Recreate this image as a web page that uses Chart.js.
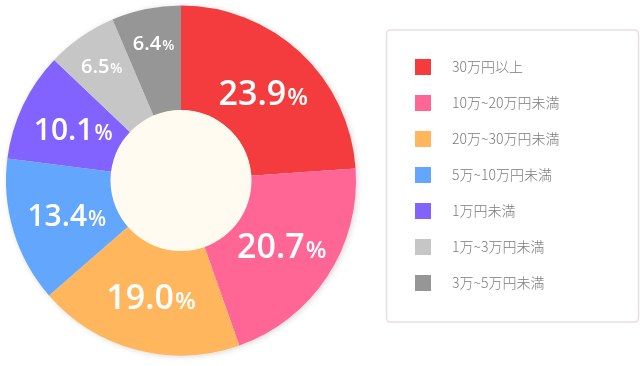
<!DOCTYPE html>
<html>
<head>
<meta charset="utf-8">
<script src="https://cdn.jsdelivr.net/npm/chart.js@4/dist/chart.umd.min.js"></script>
<style>
html,body{margin:0;padding:0;background:#fff;}
#c{display:block;}
</style>
</head>
<body>
<canvas id="c" width="640" height="366"></canvas>
<script>
const categories = ['30万円以上','10万~20万円未満','20万~30万円未満','5万~10万円未満','1万円未満','1万~3万円未満','3万~5万円未満'];
const shares = [23.9, 20.7, 19.0, 13.4, 10.1, 6.5, 6.4];
const sliceColors = ['#f43b3e','#ff6595','#ffb65d','#63a6fe','#8263ff','#c6c6c6','#969696'];

const holeShadow = {
  id: 'holeShadow',
  beforeDatasetsDraw(chart) {
    const arc = chart.getDatasetMeta(0).data[0];
    if (!arc) return;
    const ctx = chart.ctx;
    ctx.save();
    ctx.shadowColor = 'rgba(0,0,0,0.18)';
    ctx.shadowBlur = 6;
    ctx.shadowOffsetX = 1.5;
    ctx.shadowOffsetY = 1;
    ctx.beginPath();
    ctx.arc(arc.x, arc.y, arc.outerRadius - 0.5, 0, Math.PI * 2);
    ctx.fillStyle = '#ffffff';
    ctx.fill();
    ctx.restore();
  },
  afterDatasetsDraw(chart) {
    const meta = chart.getDatasetMeta(0);
    const ctx = chart.ctx;
    const a0 = meta.data[0];
    ctx.save();
    ctx.beginPath();
    ctx.arc(a0.x, a0.y, a0.innerRadius + 0.5, 0, Math.PI * 2);
    ctx.fillStyle = '#fffbf0';
    ctx.fill();
    meta.data.forEach((arc, i) => {
      const v = chart.data.datasets[0].data[i];
      const mid = (arc.startAngle + arc.endAngle) / 2;
      const r = v < 8 ? arc.outerRadius * 0.8 : arc.outerRadius * 0.685;
      const cx = arc.x + Math.cos(mid) * r;
      const cy = arc.y + Math.sin(mid) * r;
      const big = v >= 15 ? 34 : (v >= 10 ? 30 : 20);
      const small = Math.round(big * 0.7);
      const num = v.toFixed(1);
      ctx.font = '600 ' + big + 'px "Open Sans"';
      const w1 = ctx.measureText(num).width;
      ctx.font = '600 ' + small + 'px "Open Sans"';
      const w2 = ctx.measureText('%').width;
      const x0 = cx - (w1 + w2) / 2;
      const base = cy + big * 0.714 / 2;
      ctx.fillStyle = '#ffffff';
      ctx.textAlign = 'left';
      ctx.textBaseline = 'alphabetic';
      ctx.font = '600 ' + big + 'px "Open Sans"';
      ctx.fillText(num, x0, base);
      ctx.font = '600 ' + small + 'px "Open Sans"';
      ctx.fillText('%', x0 + w1 + 1, base);
    });
    ctx.restore();
  }
};

const sideLegend = {
  id: 'sideLegend',
  afterDraw(chart) {
    const ctx = chart.ctx;
    ctx.save();
    const bx = 386.5, by = 30, bw = 252, bh = 292, rr = 4;
    ctx.beginPath();
    ctx.moveTo(bx + rr, by);
    ctx.lineTo(bx + bw - rr, by);
    ctx.arcTo(bx + bw, by, bx + bw, by + rr, rr);
    ctx.lineTo(bx + bw, by + bh - rr);
    ctx.arcTo(bx + bw, by + bh, bx + bw - rr, by + bh, rr);
    ctx.lineTo(bx + rr, by + bh);
    ctx.arcTo(bx, by + bh, bx, by + bh - rr, rr);
    ctx.lineTo(bx, by + rr);
    ctx.arcTo(bx, by, bx + rr, by, rr);
    ctx.closePath();
    ctx.strokeStyle = '#e6e1e1';
    ctx.lineWidth = 1.6;
    ctx.stroke();
    const labels = chart.data.labels;
    const colors = chart.data.datasets[0].backgroundColor;
    labels.forEach((lab, i) => {
      const y = 59 + i * 36;
      ctx.fillStyle = colors[i];
      ctx.fillRect(415, y, 16, 16);
      ctx.fillStyle = '#7a7a7a';
      ctx.font = '300 14px "Noto Sans CJK JP"';
      ctx.textAlign = 'left';
      ctx.textBaseline = 'middle';
      ctx.fillText(lab, 452, y + 8);
    });
    ctx.restore();
  }
};

new Chart(document.getElementById('c'), {
  type: 'doughnut',
  data: {
    labels: categories,
    datasets: [{
      data: shares,
      backgroundColor: sliceColors,
      borderWidth: 0,
      hoverOffset: 0,
      offset: 0
    }]
  },
  options: {
    responsive: false,
    animation: false,
    cutout: '40%',
    layout: { padding: { left: 6, top: 5, right: 284, bottom: 10 } },
    plugins: { legend: { display: false }, tooltip: { enabled: false } },
    events: []
  },
  plugins: [holeShadow, sideLegend]
});
</script>
</body>
</html>
